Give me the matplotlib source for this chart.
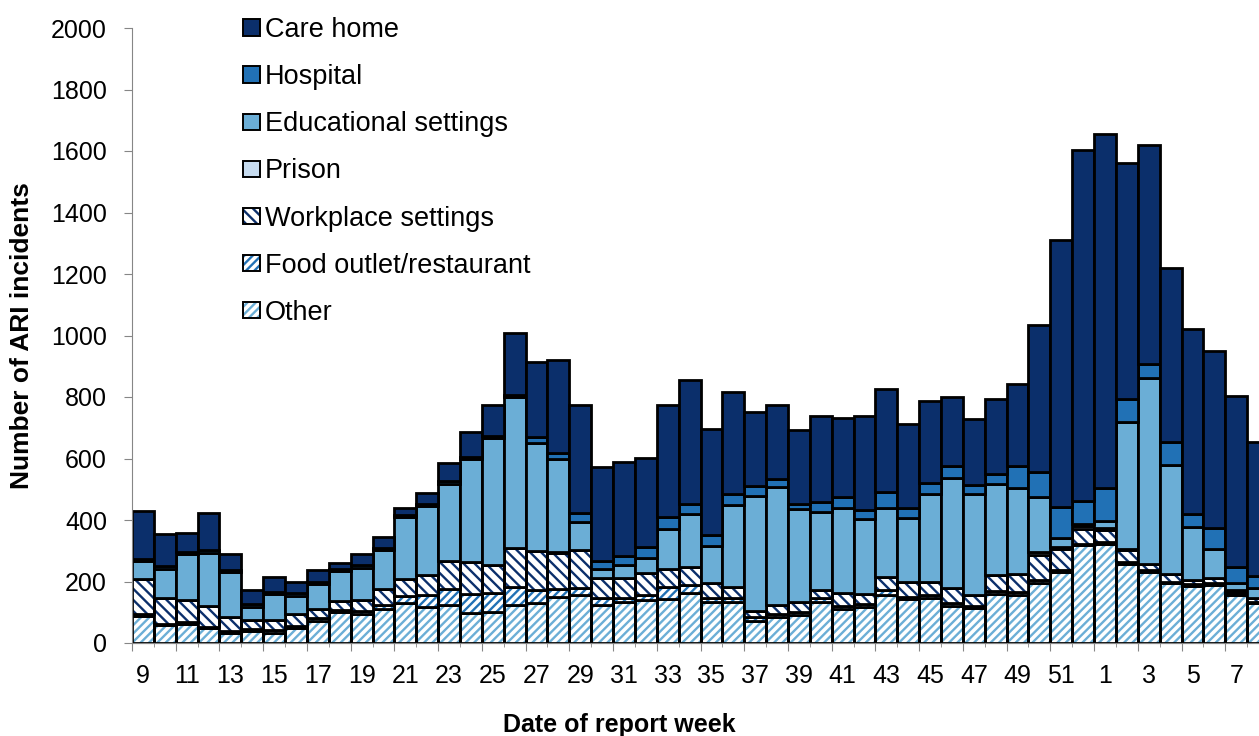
import matplotlib
matplotlib.use("Agg")
import matplotlib.pyplot as plt
from matplotlib.patches import Patch
import numpy as np

plt.rcParams['font.family'] = ['Liberation Sans', 'DejaVu Sans']
plt.rcParams['hatch.linewidth'] = 1.7

# report weeks (week 9 of one year through week 8 of the next)
weeks = list(range(9, 53)) + list(range(1, 9))

other = [88, 60, 63, 50, 33, 40, 34, 49, 73, 100, 93, 112, 130, 118, 124, 99, 102,
         124, 131, 151, 155, 124, 132, 140, 142, 162, 134, 134, 73, 86, 91, 134, 109,
         118, 156, 143, 147, 121, 113, 159, 155, 196, 232, 319, 322, 256, 230, 194,
         185, 190, 156, 129]
food = [5, 3, 4, 3, 5, 5, 8, 6, 8, 8, 10, 10, 22, 38, 52, 60, 60,
        59, 41, 26, 23, 21, 13, 16, 41, 27, 11, 11, 10, 9, 11, 11, 11,
        9, 16, 8, 9, 8, 7, 11, 11, 10, 5, 3, 5, 6, 6, 5,
        6, 5, 5, 5]
workplace = [114, 82, 73, 68, 48, 30, 33, 40, 30, 30, 38, 55, 55, 66, 90, 103, 92,
             125, 128, 115, 124, 65, 67, 71, 57, 59, 51, 38, 20, 29, 32, 27, 42,
             32, 44, 48, 43, 49, 36, 51, 57, 80, 68, 48, 40, 40, 22, 25,
             14, 16, 8, 12]
prison = [2, 0, 0, 0, 0, 0, 0, 0, 0, 0, 0, 0, 0, 0, 0, 0, 0,
          0, 0, 5, 0, 0, 0, 0, 0, 0, 0, 0, 0, 0, 0, 0, 0,
          0, 0, 0, 0, 0, 0, 0, 0, 10, 8, 10, 8, 5, 0, 0,
          0, 0, 3, 0]
educational = [57, 95, 149, 173, 145, 43, 83, 58, 80, 95, 104, 125, 203, 222, 250, 336, 414,
               493, 351, 300, 93, 30, 42, 50, 130, 172, 119, 266, 376, 382, 301, 254, 276,
               243, 222, 209, 284, 357, 327, 295, 282, 180, 27, 8, 22, 411, 603, 355,
               173, 94, 22, 32]
hospital = [8, 10, 8, 8, 5, 9, 8, 10, 6, 8, 8, 8, 6, 8, 10, 7, 6,
            6, 20, 20, 27, 27, 29, 36, 41, 32, 35, 34, 31, 26, 17, 34, 36,
            31, 52, 30, 38, 41, 31, 34, 71, 79, 103, 75, 108, 75, 45, 76,
            40, 70, 54, 40]
care_home = [156, 103, 60, 122, 54, 45, 50, 37, 40, 18, 36, 36, 22, 37, 58, 80, 100,
             200, 242, 303, 352, 304, 305, 290, 363, 403, 345, 334, 242, 242, 241, 278, 259,
             305, 335, 274, 267, 225, 213, 242, 267, 479, 868, 1140, 1150, 767, 713, 563,
             602, 576, 556, 437]

# (label, values, colour, hatch) from bottom of the stack to top
series = [
    ("Other", other, "#6baed6", "////"),
    ("Food outlet/restaurant", food, "#2171b5", "////"),
    ("Workplace settings", workplace, "#0b2f6b", "\\\\\\"),
    ("Prison", prison, "#c6dbef", None),
    ("Educational settings", educational, "#6baed6", None),
    ("Hospital", hospital, "#2171b5", None),
    ("Care home", care_home, "#0b2f6b", None),
]

gray = "#868686"
fig = plt.figure(figsize=(12.59, 7.36), dpi=100)
ax = fig.add_axes([132 / 1259, 93 / 736, 1137 / 1259, 615 / 736])

x = np.arange(len(weeks))
bottom = np.zeros(len(weeks))
handles = []
for label, vals, col, hatch in series:
    vals = np.array(vals, dtype=float)
    if hatch:
        ax.bar(x, vals, width=1.0, bottom=bottom, facecolor="white",
               edgecolor=col, hatch=hatch, linewidth=0)
        ax.bar(x, vals, width=1.0, bottom=bottom, fill=False,
               edgecolor="black", linewidth=2.0)
        h = (Patch(facecolor="white", edgecolor=col, hatch=hatch, linewidth=0),
             Patch(fill=False, edgecolor="black", linewidth=1.4))
    else:
        ax.bar(x, vals, width=1.0, bottom=bottom, color=col,
               edgecolor="black", linewidth=2.0)
        h = Patch(facecolor=col, edgecolor="black", linewidth=1.4)
    handles.append((h, label))
    bottom += vals

handles = handles[::-1]
fig.legend([h for h, l in handles], [l for h, l in handles],
           loc="upper left", bbox_to_anchor=(243 / 1259, 1 - 17 / 736),
           frameon=False, fontsize=19.5, borderpad=0, borderaxespad=0,
           handlelength=0.62, handleheight=0.55, handletextpad=0.2,
           labelspacing=0.78)

ax.set_xlim(-0.5, len(weeks) - 0.5)
ax.set_ylim(0, 2000)
ax.set_yticks(np.arange(0, 2001, 200))
ax.set_xticks(x[::2], [str(w) for w in weeks[::2]])
ax.tick_params(axis="x", length=0, pad=15, labelsize=18)
ax.tick_params(axis="y", length=6, color=gray, pad=12, labelsize=18)

# tick marks between categories, longer every second one
sec = ax.secondary_xaxis("bottom")
sec.set_xticks(np.arange(-0.5, len(weeks), 2))
sec.set_xticks(np.arange(0.5, len(weeks), 2), minor=True)
sec.tick_params(which="major", length=5.5, color=gray, labelbottom=False)
sec.tick_params(which="minor", length=3, color=gray, labelbottom=False)
sec.spines["bottom"].set_color(gray)

for s in ["top", "right"]:
    ax.spines[s].set_visible(False)
ax.spines["left"].set_color(gray)
ax.spines["bottom"].set_color(gray)

ax.set_ylabel("Number of ARI incidents", fontsize=19, fontweight="bold", va="center")
ax.yaxis.set_label_coords(-0.0967, 0.5)
ax.set_xlabel("Date of report week", fontsize=18, fontweight="bold", va="center")
ax.xaxis.set_label_coords(0.429, -0.1333)

fig.savefig("out.png", dpi=100)
